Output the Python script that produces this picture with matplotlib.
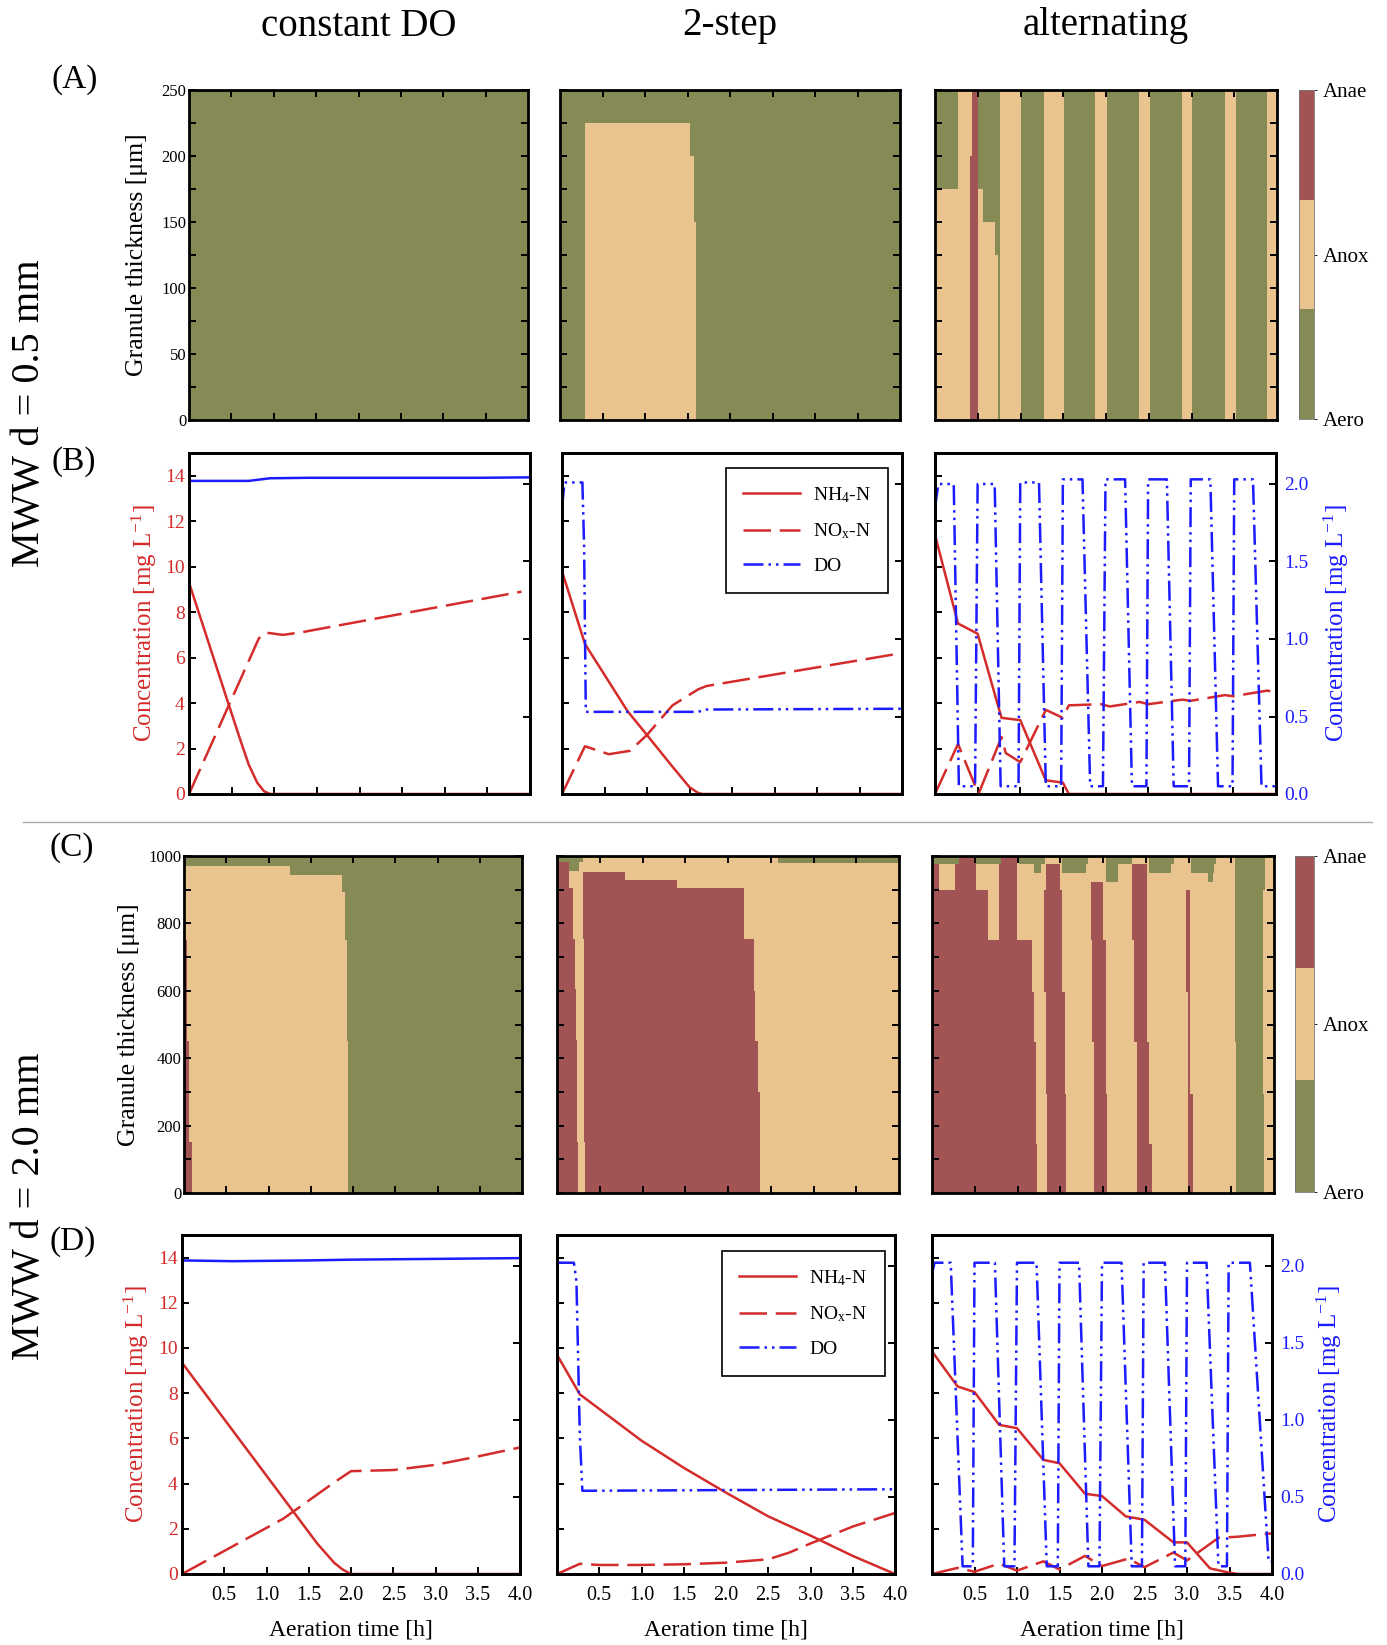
import numpy as np
import matplotlib
matplotlib.use("Agg")
import matplotlib.pyplot as plt
from matplotlib.colors import ListedColormap, Normalize
from matplotlib.cm import ScalarMappable
from matplotlib.lines import Line2D

plt.rcParams['font.family'] = ['Liberation Serif', 'DejaVu Serif']
plt.rcParams['mathtext.fontset'] = 'custom'
plt.rcParams['mathtext.rm'] = 'Liberation Serif'
plt.rcParams['mathtext.it'] = 'Liberation Serif:italic'

W, H = 1387, 1645
AERO, ANOX, ANAE = 0, 1, 2
zone_colors = ['#868a55', '#eac48e', '#a25454']
zone_names = ['Aero', 'Anox', 'Anae']
red = '#d42b2b'
blue = '#1c1cff'

col_titles = ['constant DO', '2-step', 'alternating']
row_titles = ['MWW d = 0.5 mm', 'MWW d = 2.0 mm']
panel_tags = ['(A)', '(B)', '(C)', '(D)']

# ---- zone maps: background zone + rectangles (t0, t1, depth0, depth1, zone)
zones_a1 = (AERO, [])
zones_a2 = (AERO, [(0.29, 1.53, 0, 225, ANOX), (1.53, 1.58, 0, 200, ANOX),
                   (1.58, 1.60, 0, 150, ANOX)])
zones_a3 = (AERO, [(0, 0.27, 0, 175, ANOX), (0.27, 0.41, 0, 250, ANOX),
                   (0.41, 0.50, 0, 250, ANAE), (0.41, 0.43, 200, 250, ANOX),
                   (0.50, 0.56, 0, 175, ANOX), (0.56, 0.70, 0, 150, ANOX),
                   (0.70, 0.74, 0, 125, ANOX), (0.76, 1.01, 0, 250, ANOX),
                   (1.27, 1.51, 0, 250, ANOX), (1.87, 2.01, 0, 250, ANOX),
                   (2.39, 2.51, 0, 250, ANOX), (2.89, 3.01, 0, 250, ANOX),
                   (3.39, 3.52, 0, 250, ANOX), (3.88, 4.00, 0, 250, ANOX)])
zones_c1 = (AERO, [(0, 1.26, 0, 970, ANOX), (1.26, 1.87, 0, 945, ANOX),
                   (1.87, 1.91, 0, 895, ANOX), (1.91, 1.925, 0, 750, ANOX),
                   (1.925, 1.94, 0, 450, ANOX),
                   (0, 0.034, 0, 750, ANAE), (0.034, 0.063, 0, 450, ANAE),
                   (0.063, 0.089, 0, 150, ANAE)])
zones_c2 = (ANOX, [(0, 0.30, 983, 1000, AERO), (0.145, 0.26, 957, 983, AERO),
                   (2.58, 4.0, 980, 1000, AERO),
                   (0, 0.133, 905, 983, ANAE), (0, 0.184, 755, 905, ANAE),
                   (0, 0.204, 605, 755, ANAE), (0, 0.224, 455, 605, ANAE),
                   (0, 0.235, 150, 455, ANAE), (0, 0.251, 0, 150, ANAE),
                   (0.30, 0.80, 930, 955, ANAE), (0.30, 1.40, 905, 930, ANAE),
                   (0.30, 2.19, 755, 905, ANAE), (0.31, 2.30, 600, 755, ANAE),
                   (0.31, 2.32, 450, 600, ANAE), (0.31, 2.35, 300, 450, ANAE),
                   (0.31, 2.37, 150, 300, ANAE), (0.33, 2.37, 0, 150, ANAE)])
zones_c3 = (ANOX, [(0.027, 0.31, 976, 1000, AERO), (0.51, 0.81, 976, 1000, AERO),
                   (1.02, 1.32, 976, 1000, AERO), (1.19, 1.27, 950, 976, AERO),
                   (1.52, 1.82, 976, 1000, AERO), (1.52, 1.80, 950, 976, AERO),
                   (2.03, 2.34, 976, 1000, AERO), (2.03, 2.17, 924, 976, AERO),
                   (2.54, 2.83, 976, 1000, AERO), (2.54, 2.80, 950, 976, AERO),
                   (3.03, 3.32, 976, 1000, AERO), (3.03, 3.30, 950, 976, AERO),
                   (3.23, 3.29, 924, 950, AERO),
                   (0, 1.17, 597, 750, ANAE), (0, 1.19, 448, 597, ANAE),
                   (0, 1.22, 147, 448, ANAE), (0, 1.23, 0, 147, ANAE),
                   (0, 0.66, 750, 899, ANAE), (0.78, 1.0, 750, 899, ANAE),
                   (0, 0.08, 899, 976, ANAE), (0, 0.027, 976, 1000, ANAE),
                   (0.27, 0.51, 899, 976, ANAE), (0.31, 0.51, 976, 1000, ANAE),
                   (0.78, 1.0, 899, 976, ANAE), (0.81, 1.0, 976, 1000, ANAE),
                   (1.33, 1.50, 899, 976, ANAE), (1.31, 1.52, 597, 899, ANAE),
                   (1.33, 1.55, 295, 597, ANAE), (1.35, 1.57, 0, 295, ANAE),
                   (1.86, 2.00, 750, 924, ANAE), (1.875, 2.03, 448, 750, ANAE),
                   (1.89, 2.03, 295, 448, ANAE), (1.89, 2.05, 0, 295, ANAE),
                   (2.34, 2.52, 750, 976, ANAE), (2.36, 2.52, 448, 750, ANAE),
                   (2.40, 2.54, 147, 448, ANAE), (2.40, 2.57, 0, 147, ANAE),
                   (2.97, 3.02, 597, 899, ANAE), (2.99, 3.02, 295, 597, ANAE),
                   (2.99, 3.05, 0, 295, ANAE),
                   (3.54, 3.89, 899, 1000, AERO), (3.54, 3.87, 448, 899, AERO),
                   (3.55, 3.87, 295, 448, AERO), (3.55, 3.88, 0, 295, AERO)])

# ---- concentration profiles (NH4-N, NOx-N on left axis, DO on right axis)
nh4_t_b1 = [0, 0.2, 0.46, 0.6, 0.7, 0.8, 0.88, 0.95, 4.0]
nh4_b1 = [9.3, 7.0, 4.0, 2.4, 1.3, 0.5, 0.12, 0.0, 0.0]
nox_t_b1 = [0, 0.82, 0.9, 1.1, 1.3, 3.9]
nox_b1 = [0, 6.85, 7.1, 7.0, 7.1, 8.9]
do_t_b1 = [0, 0.7, 0.95, 1.4, 3.4, 4.0]
do_b1 = [2.02, 2.02, 2.037, 2.04, 2.04, 2.043]

nh4_t_b2 = [0, 0.27, 0.77, 1.02, 1.3, 1.5, 1.6, 1.65, 4.0]
nh4_b2 = [9.8, 6.6, 3.65, 2.5, 1.2, 0.3, 0.05, 0.0, 0.0]
nox_t_b2 = [0, 0.27, 0.35, 0.55, 0.8, 1.0, 1.3, 1.6, 1.7, 4.0]
nox_b2 = [0, 2.1, 2.0, 1.75, 1.9, 2.6, 3.9, 4.6, 4.75, 6.2]
do_t_b2 = [0, 0.03, 0.24, 0.26, 0.28, 1.6, 1.7, 4.0]
do_b2 = [1.85, 2.01, 2.01, 1.6, 0.53, 0.53, 0.545, 0.55]

nh4_t_b3 = [0, 0.27, 0.5, 0.78, 1.0, 1.3, 1.5, 1.57, 4.0]
nh4_b3 = [11.4, 7.5, 7.05, 3.35, 3.25, 0.6, 0.5, 0.0, 0.0]
nox_t_b3 = [0, 0.27, 0.51, 0.78, 0.83, 1.0, 1.3, 1.5, 1.57, 1.95, 2.05, 2.4, 2.5,
            2.9, 3.0, 3.4, 3.5, 3.9, 4.0]
nox_b3 = [0, 2.2, 0, 2.5, 1.8, 1.4, 3.7, 3.35, 3.9, 3.95, 3.85, 4.05, 3.95,
          4.15, 4.1, 4.35, 4.3, 4.55, 4.45]
do_t_b3 = [0, 0.04, 0.22, 0.28, 0.47, 0.50, 0.70, 0.77, 0.98, 1.00, 1.22, 1.30,
           1.48, 1.50, 1.73, 1.82, 1.97, 2.00, 2.23, 2.31, 2.48, 2.50, 2.72, 2.80,
           2.98, 3.00, 3.23, 3.32, 3.49, 3.51, 3.73, 3.83, 4.0]
do_b3 = [1.85, 2.0, 2.0, 0.05, 0.05, 2.0, 2.0, 0.05, 0.05, 2.01, 2.01, 0.05,
         0.05, 2.03, 2.03, 0.05, 0.05, 2.03, 2.03, 0.05, 0.05, 2.03, 2.03, 0.05,
         0.05, 2.03, 2.03, 0.05, 0.05, 2.03, 2.03, 0.05, 0.05]

nh4_t_d1 = [0, 1.31, 1.6, 1.8, 1.9, 2.0, 4.0]
nh4_d1 = [9.35, 2.8, 1.35, 0.5, 0.2, 0.0, 0.0]
nox_t_d1 = [0, 1.2, 1.5, 1.8, 2.0, 2.5, 3.0, 3.5, 4.0]
nox_d1 = [0, 2.45, 3.25, 4.05, 4.55, 4.6, 4.83, 5.2, 5.6]
do_t_d1 = [0, 0.6, 1.5, 2.0, 3.0, 4.0]
do_d1 = [2.035, 2.03, 2.035, 2.04, 2.045, 2.05]

nh4_t_d2 = [0, 0.27, 1.0, 1.5, 2.0, 2.5, 3.0, 3.5, 4.0]
nh4_d2 = [9.7, 7.95, 5.9, 4.7, 3.6, 2.55, 1.7, 0.8, 0.0]
nox_t_d2 = [0, 0.27, 0.5, 1.0, 1.5, 2.0, 2.5, 2.75, 3.0, 3.5, 4.0]
nox_d2 = [0, 0.45, 0.4, 0.4, 0.43, 0.5, 0.65, 0.95, 1.35, 2.1, 2.7]
do_t_d2 = [0, 0.2, 0.23, 0.27, 0.3, 4.0]
do_d2 = [2.02, 2.02, 1.9, 0.9, 0.54, 0.55]

nh4_t_d3 = [0, 0.3, 0.5, 0.79, 1.0, 1.31, 1.5, 1.8, 2.0, 2.28, 2.5, 2.84, 3.0,
            3.27, 3.47, 3.6, 4.0]
nh4_d3 = [9.85, 8.3, 8.05, 6.6, 6.45, 5.05, 4.9, 3.55, 3.45, 2.55, 2.4, 1.4, 1.4,
          0.25, 0.08, 0.0, 0.0]
nox_t_d3 = [0, 0.3, 0.5, 0.79, 1.0, 1.31, 1.5, 1.8, 2.0, 2.31, 2.5, 2.84, 3.0,
            3.37, 3.6, 4.0]
nox_d3 = [0, 0.27, 0.1, 0.46, 0.15, 0.56, 0.2, 0.8, 0.35, 0.68, 0.3, 0.95, 0.6,
          1.6, 1.65, 1.8]
do_t_d3 = [0, 0.03, 0.22, 0.36, 0.48, 0.50, 0.74, 0.85, 0.97, 1.0, 1.23, 1.35,
           1.48, 1.50, 1.73, 1.84, 1.97, 2.0, 2.23, 2.35, 2.47, 2.49, 2.74, 2.86,
           2.98, 3.0, 3.23, 3.37, 3.47, 3.49, 3.74, 3.96, 4.0]
do_d3 = [1.95, 2.02, 2.02, 0.05, 0.05, 2.02, 2.02, 0.05, 0.05, 2.02, 2.02, 0.05,
         0.05, 2.02, 2.02, 0.05, 0.05, 2.02, 2.02, 0.05, 0.05, 2.02, 2.02, 0.05,
         0.05, 2.02, 2.02, 0.05, 0.05, 2.02, 2.02, 0.08, 0.08]

# panel frames in pixels (x0, x1) per row, rows (y0, y1) from top
row_y = [(90, 420), (453, 794), (856, 1193), (1235, 1574)]
col_x = [[(189, 528), (560, 900), (935, 1277)],
         [(189, 530), (562, 902), (935, 1276)],
         [(184, 522), (557, 899), (932, 1274)],
         [(182, 520), (557, 895), (932, 1272)]]
cbar_x = [(1299, 1314), (1295, 1314)]
left_label_x = {0: -0.122, 1: -0.088, 2: -0.13, 3: -0.092}
right_label_x = {1: 1.135, 3: 1.125}


def frame(x0, x1, y0, y1):
    return [x0 / W, 1 - y1 / H, (x1 - x0) / W, (y1 - y0) / H]


cmap = ListedColormap(zone_colors)
fig = plt.figure(figsize=(W / 100, H / 100), dpi=100)


def style_spines(ax):
    for s in ax.spines.values():
        s.set_linewidth(2.0)


def zone_panel(ax, zones, depth_max, show_y):
    bg, rects = zones
    nt, nz = 800, 500
    tc = (np.arange(nt) + 0.5) * 4.0 / nt
    zc = (np.arange(nz) + 0.5) * depth_max / nz
    grid = np.full((nz, nt), bg)
    for t0, t1, d0, d1, z in rects:
        tm = (tc >= t0) & (tc < t1)
        zm = (zc >= d0) & (zc < d1)
        grid[np.ix_(zm, tm)] = z
    ax.imshow(grid, extent=[0, 4, 0, depth_max], origin='lower', aspect='auto',
              cmap=cmap, vmin=0, vmax=2, interpolation='nearest')
    ax.set_xlim(0, 4)
    ax.set_ylim(0, depth_max)
    ax.set_xticks(np.arange(0.5, 3.6, 0.5))
    step = depth_max / 10
    yt = np.arange(0, depth_max + 1, step)
    ax.set_yticks(yt)
    ax.set_yticklabels([f'{int(v)}' if (v % (2 * step) == 0) else '' for v in yt])
    ax.tick_params(direction='in', top=True, right=True, length=5, width=1.4,
                   labelbottom=False, labelleft=show_y, labelsize=12, pad=2)
    style_spines(ax)
    if show_y:
        ax.set_ylabel('Granule thickness [\u03bcm]', fontsize=18.5)


def line_panel(ax, nh4_t, nh4, nox_t, nox, do_t, do, col, bottom_row):
    ax.plot(nh4_t, nh4, color=red, lw=1.8, solid_capstyle='butt')
    ln, = ax.plot(nox_t, nox, color=red, lw=1.8)
    ln.set_dashes((11, 3.5))
    ax.set_xlim(0, 4)
    ax.set_ylim(0, 15)
    ax.set_yticks(range(0, 15, 2))
    ax.set_xticks(np.arange(0.5, 4.01, 0.5))
    ax.tick_params(direction='in', right=False, length=5, width=1.4,
                   labelleft=(col == 0), labelbottom=bottom_row, labelsize=14,
                   labelcolor=red, pad=3)
    ax.tick_params(axis='x', labelcolor='black', labelsize=14.5, pad=9)
    ax2 = ax.twinx()
    d, = ax2.plot(do_t, do, color=blue, lw=1.8)
    if col > 0:
        d.set_dashes((8, 2, 1, 2, 1, 2))
    ax2.set_ylim(0, 2.2)
    ax2.set_yticks([0, 0.5, 1.0, 1.5, 2.0])
    ax2.set_yticklabels(['0.0', '0.5', '1.0', '1.5', '2.0'])
    ax2.tick_params(direction='in', length=5, width=1.4, labelright=(col == 2),
                    labelsize=14, labelcolor=blue, pad=6)
    style_spines(ax)
    style_spines(ax2)
    if col == 0:
        ax.set_ylabel('Concentration [mg L$^{\\mathregular{-1}}$]', color=red,
                      fontsize=18)
    if col == 2:
        ax2.set_ylabel('Concentration [mg L$^{\\mathregular{-1}}$]', color=blue,
                       fontsize=18)
    if bottom_row:
        ax.set_xlabel('Aeration time [h]', fontsize=17, labelpad=10)
    return ax2


zone_rows = [(0, [zones_a1, zones_a2, zones_a3], 250),
             (2, [zones_c1, zones_c2, zones_c3], 1000)]
for r, zs, dmax in zone_rows:
    y0, y1 = row_y[r]
    for c in range(3):
        x0, x1 = col_x[r][c]
        ax = fig.add_axes(frame(x0, x1, y0, y1))
        zone_panel(ax, zs[c], dmax, c == 0)
        if c == 0:
            ax.yaxis.set_label_coords(left_label_x[r], 0.5)
    cx0, cx1 = cbar_x[r // 2]
    cax = fig.add_axes(frame(cx0, cx1, y0, y1 - 1))
    cb = fig.colorbar(ScalarMappable(norm=Normalize(0, 2), cmap=cmap), cax=cax,
                      ticks=[0, 1, 2])
    cb.set_ticklabels(zone_names)
    cb.outline.set_linewidth(0.6)
    cb.outline.set_edgecolor('#777777')
    cax.tick_params(length=2, width=0.6, labelsize=15, pad=4)

line_data = {1: [(nh4_t_b1, nh4_b1, nox_t_b1, nox_b1, do_t_b1, do_b1),
                 (nh4_t_b2, nh4_b2, nox_t_b2, nox_b2, do_t_b2, do_b2),
                 (nh4_t_b3, nh4_b3, nox_t_b3, nox_b3, do_t_b3, do_b3)],
             3: [(nh4_t_d1, nh4_d1, nox_t_d1, nox_d1, do_t_d1, do_d1),
                 (nh4_t_d2, nh4_d2, nox_t_d2, nox_d2, do_t_d2, do_d2),
                 (nh4_t_d3, nh4_d3, nox_t_d3, nox_d3, do_t_d3, do_d3)]}
legend_anchor = {1: (0.96, 0.957), 3: (0.969, 0.954)}
for r, panels in line_data.items():
    y0, y1 = row_y[r]
    for c in range(3):
        x0, x1 = col_x[r][c]
        ax = fig.add_axes(frame(x0, x1, y0, y1))
        ax2 = line_panel(ax, *panels[c], col=c, bottom_row=(r == 3))
        if c == 0:
            ax.yaxis.set_label_coords(left_label_x[r], 0.5)
        if c == 2:
            ax2.yaxis.set_label_coords(right_label_x[r], 0.5)
        if c == 1:
            h1 = Line2D([], [], color=red, lw=1.8)
            h2 = Line2D([], [], color=red, lw=1.8, dashes=(11, 3.5))
            h3 = Line2D([], [], color=blue, lw=1.8, dashes=(8, 2, 1, 2, 1, 2))
            leg = ax2.legend([h1, h2, h3],
                             ['NH$_4$-N', 'NO$_{\\mathregular{x}}$-N', 'DO'],
                             loc='upper right', bbox_to_anchor=legend_anchor[r],
                             borderaxespad=0, fontsize=14, handlelength=2.9,
                             handletextpad=0.7, labelspacing=0.85, borderpad=0.9,
                             fancybox=False, framealpha=1, edgecolor='black')
            leg.get_frame().set_linewidth(1.2)

# column titles
for c, title in enumerate(col_titles):
    x0, x1 = col_x[0][c]
    fig.text((x0 + x1) / 2 / W, 1 - 26 / H, title, fontsize=28,
             ha='center', va='center')

# row titles and panel tags
for i, txt in enumerate(row_titles):
    fig.text(30 / W, 1 - (413 if i == 0 else 1206) / H, txt, fontsize=29,
             rotation=90, ha='center', va='center')
tag_pos = [(75, 80), (74, 462), (72, 848), (73, 1242)]
for tag, (tx, ty) in zip(panel_tags, tag_pos):
    fig.text(tx / W, 1 - ty / H, tag, fontsize=24, ha='center', va='center')

# separator between the two granule sizes
fig.add_artist(Line2D([23 / W, 1372 / W], [1 - 821.5 / H, 1 - 821.5 / H],
                      color='#aaaaaa', lw=1.0))

fig.savefig('out.png', dpi=100, facecolor='white')
